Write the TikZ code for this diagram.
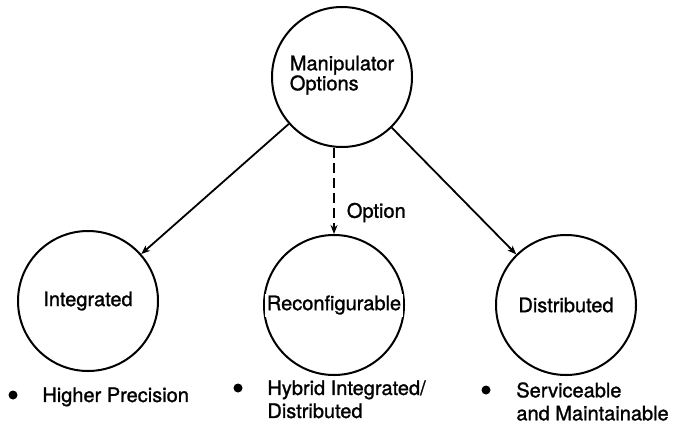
\documentclass[tikz,border=0pt]{standalone}
\usepackage{fontspec}
\setmainfont{TeX Gyre Heros}[FakeBold=1.2]
\newfontfamily\heavyfont{TeX Gyre Heros}[FakeBold=1.2]
\usetikzlibrary{arrows.meta,positioning}

\begin{document}
\begin{tikzpicture}[x=0.5pt, y=-0.5pt,
    optcircle/.style={circle, draw, line width=1pt, minimum size=70pt,
      inner sep=0pt, align=left, font=\heavyfont\fontsize{10}{10}\selectfont},
    optlbl/.style={fill=white, inner sep=1pt, font=\heavyfont\fontsize{10}{10}\selectfont},
    itemtext/.style={anchor=north west, inner sep=0pt, align=left,
      font=\heavyfont\fontsize{10}{11.5}\selectfont},
    bulletdot/.style={circle, fill, inner sep=0pt, minimum size=4.5pt},
    arr/.style={-{Stealth[length=4.5pt, width=3.5pt]}, line width=0.9pt},
    elbl/.style={font=\heavyfont\fontsize{10}{10}\selectfont, inner sep=0pt},
  ]
  \useasboundingbox (0,0) rectangle (679,423);
  % ---- Options tree ----
  \node[optcircle] (manip) at (342,77) {Manipulator\\Options\\[-6pt]};
  \node[optcircle] (integ) at (88,301) {Integrated};
  \node[optcircle] (reconf) at (334,305) {};
  \node[optlbl] (reconflbl) at (reconf) {Reconfigurable};
  \node[optcircle] (distr) at (566,305) {Distributed};

  \draw[arr] (manip) -- (integ);
  \draw[arr] (manip) -- (distr);
  \draw[arr, dash pattern=on 5pt off 2.5pt] (reconf.north |- manip.south) --
    node[elbl, pos=0.75, right=6pt]{Option} (reconf.north);

  % ---- Properties of each option ----
  \node[bulletdot] (bul1) at (13,395) {};
  \node[itemtext] (prop1) at (42,387) {Higher Precision};
  \node[bulletdot] (bul2) at (238,388) {};
  \node[itemtext] (prop2) at (267,380) {Hybrid Integrated/\\Distributed};
  \node[bulletdot] (bul3) at (486,390) {};
  \node[itemtext] (prop3) at (516,382) {Serviceable\\and Maintainable};
\end{tikzpicture}
\end{document}
